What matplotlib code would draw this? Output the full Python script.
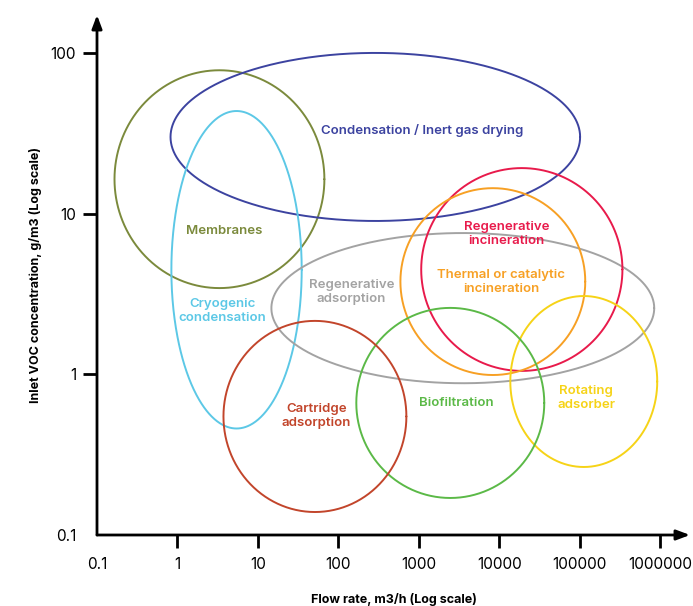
import numpy as np
import matplotlib
matplotlib.use("Agg")
import matplotlib.pyplot as plt

# ---- data (extents of each technology region, in data units) ----
names = ["Membranes", "Condensation / Inert gas drying", "Cryogenic\ncondensation",
         "Regenerative\nadsorption", "Regenerative\nincineration",
         "Thermal or catalytic\nincineration", "Rotating\nadsorber",
         "Biofiltration", "Cartridge\nadsorption"]
flow_low = [0.165, 0.82, 0.84, 14.7, 1070, 590, 13700, 167, 3.73]
flow_high = [67, 101000, 35, 842000, 339000, 117000, 918000, 36200, 700]
conc_low = [3.44, 9.0, 0.46, 0.88, 1.05, 0.99, 0.265, 0.17, 0.139]
conc_high = [78, 100, 43.5, 7.57, 19.2, 14.4, 3.07, 2.59, 2.15]
colors = ["#7b8a3c", "#3c43a0", "#5cc8e6", "#a3a3a3", "#e81a4b",
          "#f7a024", "#f6d317", "#5bb947", "#c2452b"]
label_x = [3.84, 1100, 3.62, 145, 12200, 10600, 120000, 2920, 53]
label_y = [7.8, 33.1, 2.48, 3.25, 7.46, 3.75, 0.712, 0.662, 0.55]

x_ticks = [0.1, 1, 10, 100, 1000, 10000, 100000, 1000000]
x_ticklabels = ["0.1", "1", "10", "100", "1000", "10000", "100000", "1000000"]
y_ticks = [0.1, 1, 10, 100]
y_ticklabels = ["0.1", "1", "10", "100"]

plt.rcParams['font.family'] = ['Inter', 'DejaVu Sans']

fig = plt.figure(figsize=(6.93, 6.06), dpi=100)
W, H = 693, 606
ax = fig.add_axes([97 / W, (H - 535) / H, (690 - 97) / W, (535 - 15) / H])
ax.set_xscale('log')
ax.set_yscale('log')
ax.set_xlim(0.1, 10 ** 6.37)
ax.set_ylim(0.1, 10 ** 2.236)

t = np.linspace(0, 2 * np.pi, 721)
for i in range(len(names)):
    lx0, lx1 = np.log10(flow_low[i]), np.log10(flow_high[i])
    ly0, ly1 = np.log10(conc_low[i]), np.log10(conc_high[i])
    cx, rx = (lx0 + lx1) / 2, (lx1 - lx0) / 2
    cy, ry = (ly0 + ly1) / 2, (ly1 - ly0) / 2
    ax.plot(10 ** (cx + rx * np.cos(t)), 10 ** (cy + ry * np.sin(t)),
            color=colors[i], lw=1.4, clip_on=False,
            solid_capstyle='round', solid_joinstyle='round')
    ax.text(label_x[i], label_y[i], names[i], color=colors[i], fontsize=9.5,
            fontweight='semibold', ha='center', va='center', linespacing=1.15)

for s in ax.spines.values():
    s.set_visible(False)

ax.annotate('', xy=(1.0, 0), xytext=(0, 0), xycoords='axes fraction',
            arrowprops=dict(arrowstyle='-|>,head_length=0.8,head_width=0.3',
                            color='black', lw=2, shrinkA=0, shrinkB=0))
ax.annotate('', xy=(0, 1.0), xytext=(0, 0), xycoords='axes fraction',
            arrowprops=dict(arrowstyle='-|>,head_length=0.8,head_width=0.3',
                            color='black', lw=2, shrinkA=0, shrinkB=0))

ax.set_xticks(x_ticks)
ax.set_xticklabels(x_ticklabels)
ax.set_yticks(y_ticks)
ax.set_yticklabels(y_ticklabels)
ax.minorticks_off()
ax.tick_params(axis='x', length=9, width=2, labelsize=11, pad=7)
ax.tick_params(axis='y', length=10, width=2, labelsize=11, pad=5)
ax.xaxis.get_major_ticks()[0].tick1line.set_visible(False)
ax.yaxis.get_major_ticks()[0].tick1line.set_visible(False)

ax.set_xlabel("Flow rate, m3/h (Log scale)", fontsize=9, fontweight='bold', labelpad=15)
ax.set_ylabel("Inlet VOC concentration, g/m3 (Log scale)", fontsize=9,
              fontweight='bold', labelpad=6)

fig.savefig("out.png", dpi=100)
